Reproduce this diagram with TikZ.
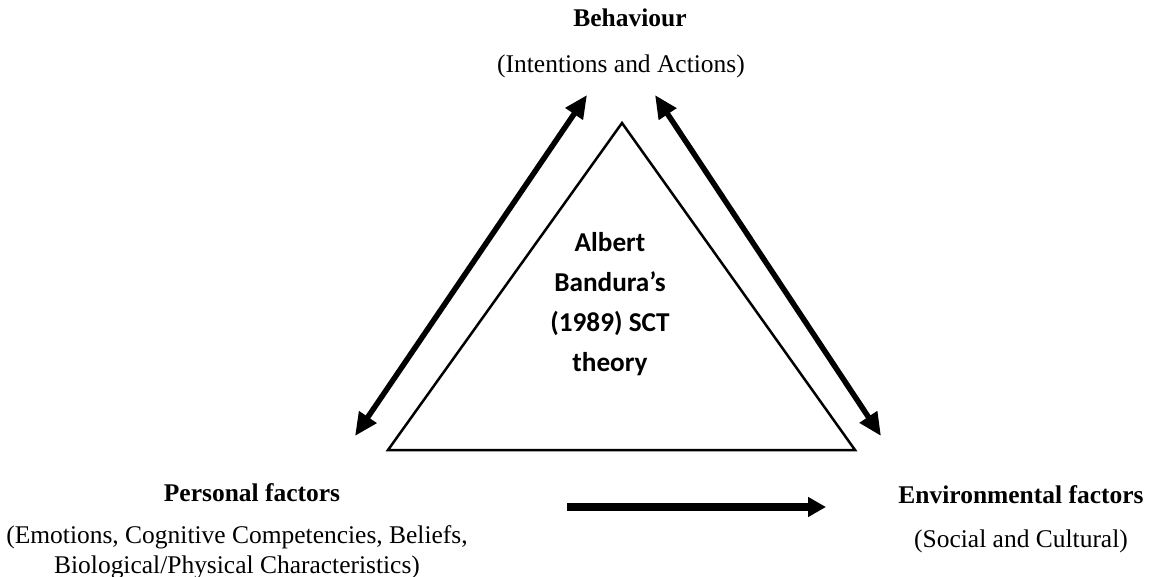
\documentclass[tikz,border=0pt]{standalone}
\usepackage{fontspec}
\setmainfont{Liberation Serif}
\newfontfamily\calibri{Carlito}
\usetikzlibrary{arrows.meta}

\begin{document}
\begin{tikzpicture}[
  x=0.02cm, y=-0.02cm,
  every node/.style={align=center,inner sep=0pt},
  heading/.style={font=\fontsize{14.5}{17}\selectfont\bfseries},
  detail/.style={font=\fontsize{14.5}{17}\selectfont},
  sctText/.style={font=\calibri\bfseries\fontsize{15.5}{22.7}\selectfont},
  sideEdge/.style={line width=0.05cm},
  linkArrow/.style={{Triangle[length=0.46cm,width=0.4cm]}-{Triangle[length=0.46cm,width=0.4cm]},line width=0.11cm},
  flowArrow/.style={-{Triangle[length=0.36cm,width=0.38cm]},line width=0.15cm}]

  \useasboundingbox (0,0) rectangle (1156,577);

  % the three factors
  \node[heading] (behav) at (630,18) {Behaviour};
  \node[detail] (behavSub) at (621,66) {(Intentions and Actions)};
  \node[heading] (personal) at (252,493) {Personal factors};
  \node[detail] (personalSub) at (237,552) {(Emotions, Cognitive Competencies, Beliefs,\\Biological/Physical Characteristics)};
  \node[heading] (environ) at (1021,495) {Environmental factors};
  \node[detail] (environSub) at (1021,541) {(Social and Cultural)};

  % central triangle
  \coordinate (apex) at (622,123);
  \coordinate (baseL) at (388,450);
  \coordinate (baseR) at (855,450);
  \draw [sideEdge] (apex) -- (baseL) -- (baseR) -- cycle;
  \node[sctText] (sct) at (610,304) {Albert\\Bandura’s\\(1989) SCT\\theory};

  % arrows between the factors
  \coordinate (bTopL) at (587,95);
  \coordinate (pTop) at (355,436);
  \coordinate (bTopR) at (655,95);
  \coordinate (eTop) at (881,436);
  \coordinate (pRight) at (567,507);
  \coordinate (eLeft) at (826,507);
  \draw [linkArrow] (pTop) -- (bTopL);
  \draw [linkArrow] (bTopR) -- (eTop);
  \draw [flowArrow] (pRight) -- (eLeft);
\end{tikzpicture}
\end{document}
